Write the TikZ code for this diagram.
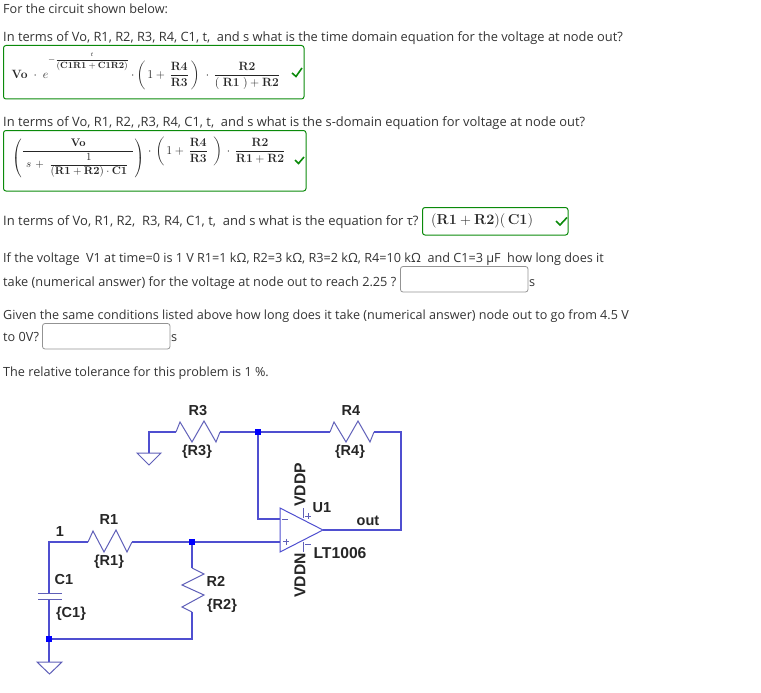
\documentclass[tikz,border=0pt]{standalone}
\usepackage[no-math]{fontspec}
\usepackage{amsmath}
\newfontfamily\uifont{Open Sans}
\newfontfamily\labfont{Liberation Sans}
\definecolor{wire}{HTML}{4F4FD0}
\definecolor{part}{HTML}{5F5FB8}
\definecolor{okgreen}{HTML}{0A8A0A}
\definecolor{txt}{HTML}{333333}
\newcommand{\dsp}{\ \ }
\tikzset{
  line/.style={anchor=base west,inner sep=0pt,text=txt,font=\uifont\fontsize{#1}{15}\selectfont},
  line/.default=12.65,
  answer/.style={draw=okgreen,line width=1pt,rounded corners=2.5pt},
  blank/.style={draw=gray!85,line width=0.8pt,rounded corners=2.5pt},
  tick/.style={draw=okgreen,line width=1.6pt},
  formula/.style={anchor=base west,inner sep=0pt,text=black!85,font=\fontsize{12}{14}\selectfont},
  wireline/.style={draw=wire,line width=1.1pt},
  partline/.style={draw=part,line width=1pt},
  lab/.style={inner sep=0pt,text=black!85,font=\labfont\bfseries\fontsize{14.5}{16}\selectfont},
  labbig/.style={lab,font=\labfont\bfseries\fontsize{15.7}{17}\selectfont},
  dotj/.style={fill=blue,draw=none,minimum size=6pt,inner sep=0pt,rectangle}
}
\begin{document}
\begin{tikzpicture}[x=1pt,y=-1pt]
\useasboundingbox (0,0) rectangle (761,693);
% question text
\node[line] (t1) at (3,14) {For the circuit shown below:};
\node[line=12.85] (t2) at (3,42) {In terms of Vo, R1, R2, R3, R4, C1, t,\dsp and s what is the time domain equation for the voltage at node out?};
\node[line=12.9] (t3) at (3,126) {In terms of Vo, R1, R2, ,R3, R4, C1, t,\dsp and s what is the s-domain equation for voltage at node out?};
\node[line=13] (t4) at (3,225) {In terms of Vo, R1, R2,\dsp R3, R4, C1, t,\dsp and s what is the equation for τ?};
\node[line] (t5) at (3,262) {If the voltage\dsp V1 at time=0 is 1 V R1=1 kΩ, R2=3 kΩ, R3=2 kΩ, R4=10 kΩ\dsp and C1=3 μF\dsp how long does it};
\node[line=12.75] (t6) at (3,286) {take (numerical answer) for the voltage at node out to reach 2.25 ?};
\node[line=12.6] (t7) at (3,319) {Given the same conditions listed above how long does it take (numerical answer) node out to go from 4.5 V};
\node[line] (t8) at (3,341) {to 0V?};
\node[line] (t9) at (3,376) {The relative tolerance for this problem is 1 \%.};
\node[line] (s1) at (529,286) {s};
\node[line] (s2) at (171,341) {s};
% answer boxes
\draw[answer] (3.5,45.5) rectangle (304,99);
\draw[answer] (3.5,130.5) rectangle (306,191);
\draw[answer] (422.5,207.5) rectangle (568,235);
\draw[blank] (400.5,266.5) rectangle (528,292);
\draw[blank] (42.5,323.5) rectangle (170,349);
% formulas
\node[formula] (f1a) at (11.5,78.5) {$\mathbf{Vo}\;\cdot\;e$};
\node[formula,font=\fontsize{9}{11}\selectfont] (f1e) at (48,62.3) {$\displaystyle-\frac{\scriptstyle t}{(\mathbf{C1R1}+\mathbf{C1R2})}$};
\node[formula] (f1b) at (131,78.5) {$\displaystyle\cdot\left(\,1+\,\frac{\mathbf{R4}}{\mathbf{R3}}\,\right)\;\cdot\,\frac{\mathbf{R2}}{(\;\mathbf{R1}\;)+\mathbf{R2}}$};
\node[formula,anchor=west,font=\fontsize{10.95}{13}\selectfont] (f2a) at (12,158.5) {$\left(\vcenter{\hbox{$\displaystyle\frac{\mathbf{Vo}}{\;s\,+\;\dfrac{1}{(\mathbf{R1}+\mathbf{R2})\cdot\mathbf{C1}}\;\,}$}}\right)$};
\node[formula] (f2b) at (148,154.5) {$\displaystyle\cdot\,\left(\,1+\,\frac{\mathbf{R4}}{\mathbf{R3}}\;\,\right)\,\cdot\,\frac{\mathbf{R2}}{\mathbf{R1}+\mathbf{R2}}$};
\node[formula,anchor=west,font=\fontsize{14.4}{16}\selectfont] (f3) at (431,220.5) {$(\mathbf{R1}+\mathbf{R2})(\,\mathbf{C1})$};
\draw[tick] (292,73) -- (296,76.5) -- (302,68);
\draw[tick] (295,160) -- (298.5,163.5) -- (304,157);
\draw[tick] (556,221) -- (560,225) -- (567,217.5);
% circuit coordinates
\coordinate (gnd3) at (149,432);
\coordinate (r3a) at (176,432);
\coordinate (r3b) at (220,432);
\coordinate (j1) at (258,432);
\coordinate (r4a) at (330,432);
\coordinate (r4b) at (374,432);
\coordinate (fbc) at (401,432);
\coordinate (outc) at (401,530);
\coordinate (tip) at (323,530);
\coordinate (inm) at (280,519);
\coordinate (inp) at (280,542);
\coordinate (j2) at (192,542);
\coordinate (r1a) at (88,542);
\coordinate (r1b) at (132,542);
\coordinate (nl) at (49,542);
\coordinate (r2a) at (192,568);
\coordinate (r2b) at (192,612);
\coordinate (j3) at (49,639);
\coordinate (botr) at (192,639);
\coordinate (c1a) at (49,593);
\coordinate (c1b) at (49,599);
\coordinate (g1) at (49,662);
\coordinate (g3) at (149,453);
% wires
\draw[wireline] (g3) -- (gnd3) -- (r3a);
\draw[wireline] (r3b) -- (j1) -- (r4a);
\draw[wireline] (r4b) -- (fbc) -- (outc) -- (tip);
\draw[wireline] (j1) |- (inm);
\draw[wireline] (inp) -- (j2) -- (r1b);
\draw[wireline] (r1a) -- (nl) -- (c1a);
\draw[wireline] (j2) -- (r2a);
\draw[wireline] (r2b) -- (botr) -- (j3);
\draw[wireline] (c1b) -- (j3) -- (g1);
% resistors
\draw[partline] (r3a) -- (180,422) -- (192,442) -- (204,421) -- (216,442) -- (r3b);
\draw[partline] (r4a) -- (334,422) -- (346,442) -- (358,421) -- (370,442) -- (r4b);
\draw[partline] (r1a) -- (93,531) -- (104,552) -- (116,530) -- (127,552) -- (r1b);
\draw[partline] (r2a) -- (204,574) -- (182,585) -- (204,595) -- (182,607) -- (r2b);
% capacitor
\draw[partline] (38,593) -- (62,593);
\draw[partline] (38,599) -- (62,599);
% grounds
\draw[partline] (137,453) -- (161,453) -- (149,465) -- cycle;
\draw[partline] (37,662) -- (62,662) -- (49.5,674) -- cycle;
% op amp
\draw[wireline,line width=1pt] (280,508) -- (280,552) -- (tip) -- cycle;
\draw[partline] (303,508) -- (303,518);
\draw[partline] (303,542) -- (303,552);
\draw[partline,line width=.7pt] (282,519) -- (288,519) (283,541.5) -- (289,541.5) (286,538.5) -- (286,544.5);
\draw[partline,line width=.7pt] (305,516) -- (311,516) (308,513) -- (308,519) (305,544) -- (311,544);
% junctions
\node[dotj] (dj1) at (j1) {};
\node[dotj] (dj2) at (j2) {};
\node[dotj] (dj3) at (j3) {};
% labels
\node[lab] (lr3) at (198,411) {R3};
\node[lab] (vr3) at (197,452) {\{R3\}};
\node[lab] (lr4) at (351,411) {R4};
\node[lab] (vr4) at (350,452) {\{R4\}};
\node[lab] (lr1) at (109,520) {R1};
\node[lab] (vr1) at (109,562) {\{R1\}};
\node[lab] (lr2) at (216,581) {R2};
\node[lab] (vr2) at (222,606) {\{R2\}};
\node[lab] (lc1) at (64,580) {C1};
\node[lab] (vc1) at (71,614) {\{C1\}};
\node[lab] (ln1) at (60,532) {1};
\node[lab] (lu1) at (322,508) {U1};
\node[lab] (lout) at (368,521) {out};
\node[labbig] (llt) at (340,553) {LT1006};
\node[labbig,rotate=90,anchor=west] (lvp) at (300,507) {VDDP};
\node[labbig,rotate=90,anchor=east] (lvn) at (300,553) {VDDN};
\end{tikzpicture}
\end{document}
